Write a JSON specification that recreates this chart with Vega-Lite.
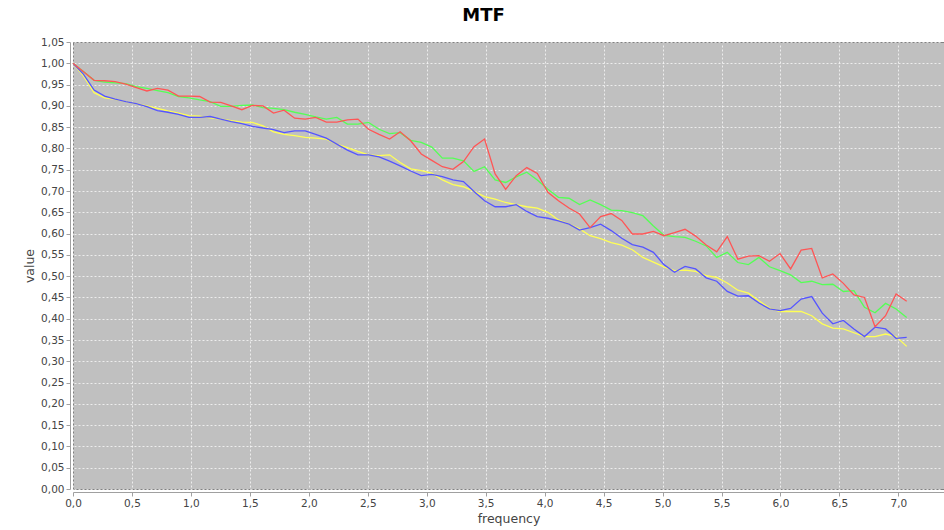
{
  "$schema": "https://vega.github.io/schema/vega-lite/v6.json",
  "width": 871,
  "height": 447,
  "autosize": "none",
  "padding": {"left": 73, "top": 42, "right": 0, "bottom": 41},
  "background": "white",
  "title": {"text": "MTF", "font": "DejaVu Sans", "fontSize": 18, "fontWeight": "bold", "color": "#000000", "anchor": "middle", "dx": -25, "offset": 12},
  "config": {
    "view": {"fill": "#c0c0c0", "stroke": "#808080", "strokeWidth": 1},
    "axis": {
      "labelFont": "DejaVu Sans", "labelFontSize": 10.5, "labelColor": "#444444", "labelPadding": 2,
      "titleFont": "DejaVu Sans", "titleFontSize": 12.5, "titleFontWeight": "normal", "titleColor": "#444444",
      "domainColor": "#a0a0a0", "tickColor": "#a0a0a0", "tickSize": 4, "offset": 3,
      "gridColor": "#ffffff", "gridDash": [2, 2], "gridWidth": 0.8, "gridOpacity": 0.9,
      "labelFlush": false, "labelOverlap": false, "labelBound": false
    }
  },
  "data": {"values": [
    {"f": 0, "r": 1.000, "g": 1.000, "b": 1.000, "y": 1.000},
    {"f": 0.0895, "r": 0.980, "g": 0.980, "b": 0.974, "y": 0.970},
    {"f": 0.179, "r": 0.960, "g": 0.960, "b": 0.937, "y": 0.931},
    {"f": 0.2685, "r": 0.959, "g": 0.956, "b": 0.923, "y": 0.919},
    {"f": 0.358, "r": 0.957, "g": 0.954, "b": 0.916, "y": 0.915},
    {"f": 0.4475, "r": 0.951, "g": 0.952, "b": 0.910, "y": 0.910},
    {"f": 0.537, "r": 0.943, "g": 0.945, "b": 0.905, "y": 0.905},
    {"f": 0.6265, "r": 0.935, "g": 0.941, "b": 0.898, "y": 0.900},
    {"f": 0.716, "r": 0.941, "g": 0.936, "b": 0.889, "y": 0.894},
    {"f": 0.8055, "r": 0.937, "g": 0.931, "b": 0.885, "y": 0.888},
    {"f": 0.895, "r": 0.923, "g": 0.922, "b": 0.880, "y": 0.883},
    {"f": 0.9845, "r": 0.923, "g": 0.919, "b": 0.873, "y": 0.877},
    {"f": 1.074, "r": 0.922, "g": 0.914, "b": 0.873, "y": 0.876},
    {"f": 1.1635, "r": 0.909, "g": 0.910, "b": 0.875, "y": 0.872},
    {"f": 1.253, "r": 0.908, "g": 0.899, "b": 0.869, "y": 0.869},
    {"f": 1.3425, "r": 0.900, "g": 0.899, "b": 0.863, "y": 0.865},
    {"f": 1.432, "r": 0.891, "g": 0.901, "b": 0.858, "y": 0.862},
    {"f": 1.5215, "r": 0.901, "g": 0.902, "b": 0.852, "y": 0.861},
    {"f": 1.611, "r": 0.900, "g": 0.896, "b": 0.848, "y": 0.853},
    {"f": 1.7005, "r": 0.883, "g": 0.894, "b": 0.844, "y": 0.839},
    {"f": 1.79, "r": 0.890, "g": 0.891, "b": 0.837, "y": 0.833},
    {"f": 1.8795, "r": 0.871, "g": 0.885, "b": 0.841, "y": 0.830},
    {"f": 1.969, "r": 0.869, "g": 0.880, "b": 0.841, "y": 0.826},
    {"f": 2.0585, "r": 0.873, "g": 0.874, "b": 0.833, "y": 0.824},
    {"f": 2.148, "r": 0.862, "g": 0.869, "b": 0.824, "y": 0.822},
    {"f": 2.2375, "r": 0.862, "g": 0.873, "b": 0.810, "y": 0.810},
    {"f": 2.327, "r": 0.867, "g": 0.857, "b": 0.796, "y": 0.802},
    {"f": 2.4165, "r": 0.869, "g": 0.857, "b": 0.785, "y": 0.793},
    {"f": 2.506, "r": 0.845, "g": 0.861, "b": 0.785, "y": 0.785},
    {"f": 2.5955, "r": 0.833, "g": 0.845, "b": 0.780, "y": 0.783},
    {"f": 2.685, "r": 0.822, "g": 0.835, "b": 0.770, "y": 0.785},
    {"f": 2.7745, "r": 0.839, "g": 0.837, "b": 0.759, "y": 0.767},
    {"f": 2.864, "r": 0.818, "g": 0.819, "b": 0.747, "y": 0.752},
    {"f": 2.9535, "r": 0.787, "g": 0.814, "b": 0.736, "y": 0.748},
    {"f": 3.043, "r": 0.772, "g": 0.803, "b": 0.739, "y": 0.742},
    {"f": 3.1325, "r": 0.757, "g": 0.777, "b": 0.734, "y": 0.726},
    {"f": 3.222, "r": 0.751, "g": 0.777, "b": 0.726, "y": 0.715},
    {"f": 3.3115, "r": 0.769, "g": 0.771, "b": 0.722, "y": 0.710},
    {"f": 3.401, "r": 0.804, "g": 0.746, "b": 0.699, "y": 0.699},
    {"f": 3.4905, "r": 0.822, "g": 0.757, "b": 0.677, "y": 0.687},
    {"f": 3.58, "r": 0.740, "g": 0.726, "b": 0.663, "y": 0.681},
    {"f": 3.6695, "r": 0.704, "g": 0.720, "b": 0.663, "y": 0.673},
    {"f": 3.759, "r": 0.736, "g": 0.733, "b": 0.668, "y": 0.668},
    {"f": 3.8485, "r": 0.755, "g": 0.744, "b": 0.652, "y": 0.663},
    {"f": 3.938, "r": 0.741, "g": 0.726, "b": 0.640, "y": 0.660},
    {"f": 4.0275, "r": 0.697, "g": 0.704, "b": 0.636, "y": 0.650},
    {"f": 4.117, "r": 0.677, "g": 0.685, "b": 0.630, "y": 0.632},
    {"f": 4.2065, "r": 0.660, "g": 0.683, "b": 0.622, "y": 0.622},
    {"f": 4.296, "r": 0.646, "g": 0.668, "b": 0.608, "y": 0.611},
    {"f": 4.3855, "r": 0.614, "g": 0.679, "b": 0.614, "y": 0.595},
    {"f": 4.475, "r": 0.640, "g": 0.668, "b": 0.622, "y": 0.588},
    {"f": 4.5645, "r": 0.647, "g": 0.655, "b": 0.607, "y": 0.579},
    {"f": 4.654, "r": 0.631, "g": 0.654, "b": 0.589, "y": 0.573},
    {"f": 4.7435, "r": 0.599, "g": 0.649, "b": 0.574, "y": 0.562},
    {"f": 4.833, "r": 0.599, "g": 0.642, "b": 0.568, "y": 0.544},
    {"f": 4.9225, "r": 0.605, "g": 0.618, "b": 0.556, "y": 0.533},
    {"f": 5.012, "r": 0.595, "g": 0.596, "b": 0.527, "y": 0.522},
    {"f": 5.1015, "r": 0.602, "g": 0.593, "b": 0.509, "y": 0.513},
    {"f": 5.191, "r": 0.610, "g": 0.591, "b": 0.523, "y": 0.514},
    {"f": 5.2805, "r": 0.594, "g": 0.582, "b": 0.517, "y": 0.511},
    {"f": 5.37, "r": 0.573, "g": 0.571, "b": 0.496, "y": 0.501},
    {"f": 5.4595, "r": 0.557, "g": 0.544, "b": 0.488, "y": 0.497},
    {"f": 5.549, "r": 0.593, "g": 0.556, "b": 0.464, "y": 0.484},
    {"f": 5.6385, "r": 0.540, "g": 0.532, "b": 0.453, "y": 0.467},
    {"f": 5.728, "r": 0.547, "g": 0.527, "b": 0.454, "y": 0.460},
    {"f": 5.8175, "r": 0.548, "g": 0.544, "b": 0.437, "y": 0.442},
    {"f": 5.907, "r": 0.535, "g": 0.522, "b": 0.423, "y": 0.425},
    {"f": 5.9965, "r": 0.553, "g": 0.513, "b": 0.419, "y": 0.417},
    {"f": 6.086, "r": 0.517, "g": 0.503, "b": 0.424, "y": 0.417},
    {"f": 6.1755, "r": 0.561, "g": 0.485, "b": 0.446, "y": 0.417},
    {"f": 6.265, "r": 0.565, "g": 0.488, "b": 0.452, "y": 0.407},
    {"f": 6.3545, "r": 0.496, "g": 0.480, "b": 0.413, "y": 0.388},
    {"f": 6.444, "r": 0.505, "g": 0.481, "b": 0.388, "y": 0.378},
    {"f": 6.5335, "r": 0.483, "g": 0.464, "b": 0.396, "y": 0.376},
    {"f": 6.623, "r": 0.456, "g": 0.466, "b": 0.376, "y": 0.367},
    {"f": 6.7125, "r": 0.450, "g": 0.427, "b": 0.358, "y": 0.358},
    {"f": 6.802, "r": 0.381, "g": 0.414, "b": 0.380, "y": 0.358},
    {"f": 6.8915, "r": 0.407, "g": 0.436, "b": 0.376, "y": 0.364},
    {"f": 6.981, "r": 0.458, "g": 0.423, "b": 0.354, "y": 0.358},
    {"f": 7.0705, "r": 0.441, "g": 0.403, "b": 0.356, "y": 0.335}
  ]},
  "encoding": {
    "x": {
      "field": "f", "type": "quantitative",
      "scale": {"domain": [0, 7.387], "nice": false, "zero": false},
      "axis": {
        "title": "frequency", "titlePadding": 4,
        "values": [0, 0.5, 1, 1.5, 2, 2.5, 3, 3.5, 4, 4.5, 5, 5.5, 6, 6.5, 7],
        "labelExpr": "replace(format(datum.value, '.1f'), '.', ',')"
      }
    },
    "y": {
      "field": "y", "type": "quantitative", "title": "value",
      "scale": {"domain": [0, 1.05], "nice": false, "zero": false},
      "axis": {
        "title": "value", "titlePadding": 4,
        "values": [0, 0.05, 0.1, 0.15, 0.2, 0.25, 0.3, 0.35, 0.4, 0.45, 0.5, 0.55, 0.6, 0.65, 0.7, 0.75, 0.8, 0.85, 0.9, 0.95, 1, 1.0499],
        "labelExpr": "replace(format(datum.value, '.2f'), '.', ',')"
      }
    }
  },
  "layer": [
    {
      "mark": {"type": "line", "color": "#FFFF55", "strokeWidth": 1.3}
    },
    {
      "mark": {"type": "line", "color": "#55FF55", "strokeWidth": 1.3},
      "encoding": {"y": {"field": "g", "type": "quantitative", "title": "value"}}
    },
    {
      "mark": {"type": "line", "color": "#5555FF", "strokeWidth": 1.3},
      "encoding": {"y": {"field": "b", "type": "quantitative", "title": "value"}}
    },
    {
      "mark": {"type": "line", "color": "#FF5555", "strokeWidth": 1.3},
      "encoding": {"y": {"field": "r", "type": "quantitative", "title": "value"}}
    }
  ]
}
